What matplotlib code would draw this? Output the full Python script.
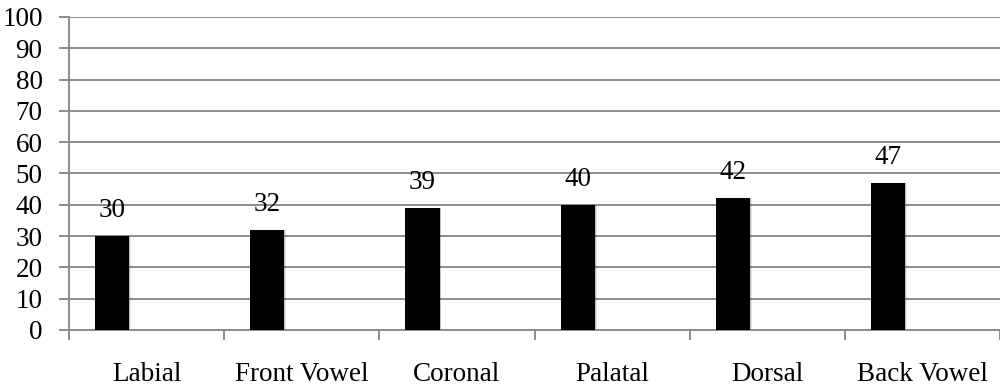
import matplotlib.pyplot as plt
import numpy as np

categories = ['Labial', 'Front Vowel', 'Coronal', 'Palatal', 'Dorsal', 'Back Vowel']
values = [30, 32, 39, 40, 42, 47]
yticks = list(range(0, 101, 10))

plt.rcParams['font.family'] = ['Liberation Serif', 'DejaVu Serif']
fs = 19.5

fig = plt.figure(figsize=(10, 3.85), dpi=100)
ax = fig.add_axes([0.069, 0.143, 0.931, 0.813])

x = np.arange(len(categories)) + 0.5
bar_x = x - 0.222
w = 0.22

# soft shadow like the original
for dx, a in [(0.012, 0.10), (0.007, 0.15)]:
    ax.bar(bar_x + dx, values, width=w, color='black', alpha=a, zorder=2, linewidth=0)
ax.bar(bar_x, values, width=w, color='black', zorder=3, linewidth=0)

for bx, v in zip(bar_x, values):
    ax.text(bx, v + 8.2, str(v), ha='center', va='center', fontsize=fs, color='black')

ax.set_ylim(0, 100)
ax.set_xlim(0, 6)
ax.set_yticks(yticks)
ax.set_yticklabels([str(t) for t in yticks], fontsize=fs)
ax.yaxis.grid(True, color='#8c8c8c', linewidth=1.4, zorder=1)
ax.set_axisbelow(True)

ax.set_xticks(np.arange(0, 7))
ax.set_xticklabels([])
ax.set_xticks(x, minor=True)
ax.set_xticklabels(categories, minor=True, fontsize=fs)
ax.tick_params(axis='x', which='minor', length=0, pad=23)
ax.tick_params(axis='x', which='major', length=7, color='#8c8c8c', width=1.4)
ax.tick_params(axis='y', length=7, color='#8c8c8c', width=1.4, pad=12)

for s in ['top', 'right']:
    ax.spines[s].set_visible(False)
for s in ['left', 'bottom']:
    ax.spines[s].set_color('#8c8c8c')
    ax.spines[s].set_linewidth(1.4)

fig.savefig('out.png', dpi=100)
